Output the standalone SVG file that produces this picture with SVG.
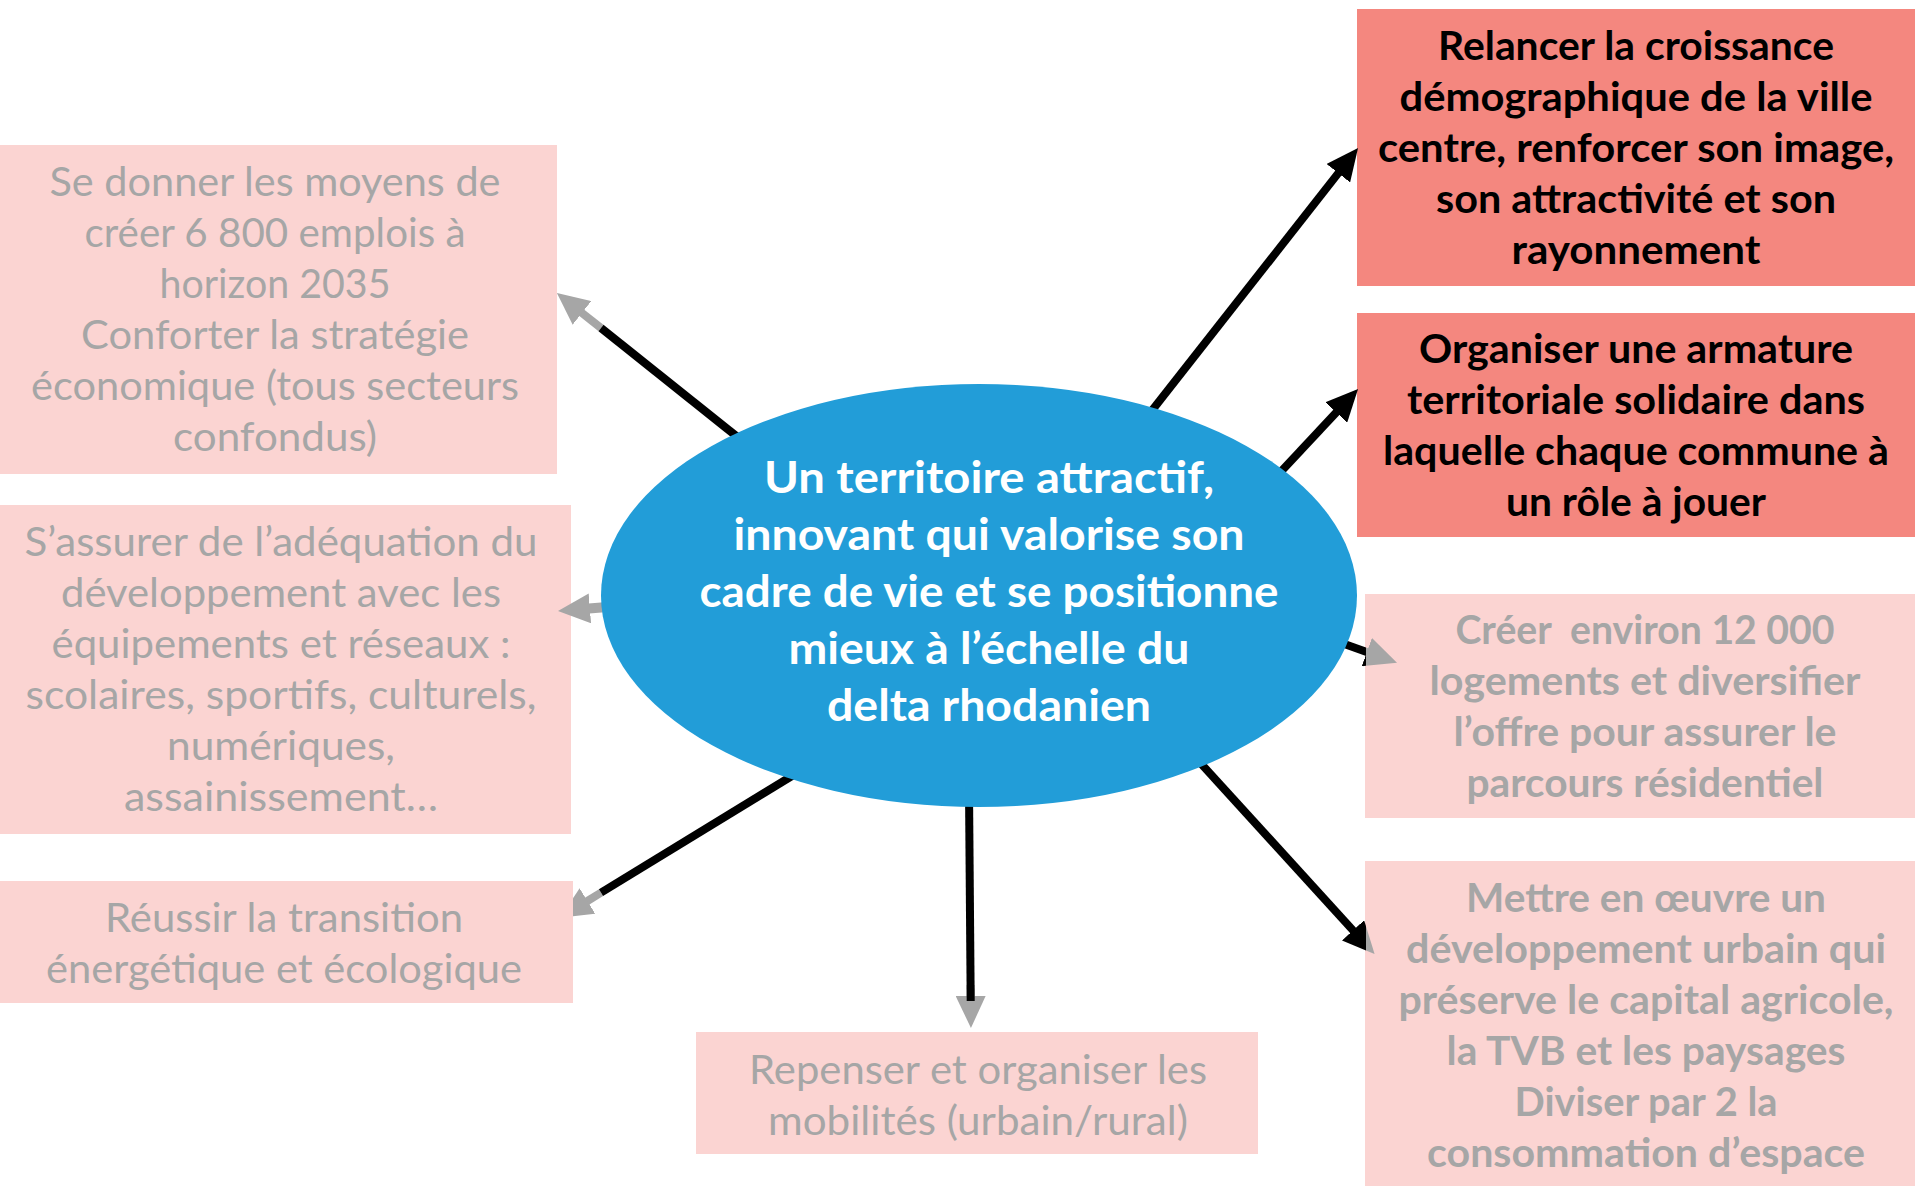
<svg xmlns="http://www.w3.org/2000/svg" width="1915" height="1186" viewBox="0 0 1915 1186">
<style>
.pk{fill:#FBD4D2}
.rd{fill:#F4877F}
.t{font-family:Lato,"Liberation Sans",sans-serif;font-size:40px;text-anchor:middle}
.g{fill:#A6A6A6}
.b{font-weight:bold}
.k{fill:#000000}
.e{font-family:Lato,"Liberation Sans",sans-serif;fill:#FFFFFF;font-weight:bold;font-size:44px;text-anchor:middle}
.lk{stroke:#000000;stroke-width:8;fill:none}
.lg{stroke:#A6A6A6;stroke-width:8;fill:none}
</style>
<defs>
<marker id="ag" viewBox="0 0 32 30" refX="1" refY="15" markerWidth="32" markerHeight="30" markerUnits="userSpaceOnUse" orient="auto"><path d="M0,0 L32,15 L0,30 Z" fill="#A6A6A6"/></marker>
<marker id="ab" viewBox="0 0 32 30" refX="1" refY="15" markerWidth="32" markerHeight="30" markerUnits="userSpaceOnUse" orient="auto"><path d="M0,0 L32,15 L0,30 Z" fill="#000000"/></marker>
<clipPath id="clipL"><rect x="573" y="0" width="1342" height="1186"/></clipPath>
<clipPath id="clipIn"><rect x="0" y="0" width="1366" height="1186"/></clipPath>
<clipPath id="clipOut"><rect x="1366" y="0" width="549" height="1186"/></clipPath>
</defs>
<rect width="1915" height="1186" fill="#FFFFFF"/>

<g id="n-emplois">
<rect class="pk" x="0" y="145" width="557" height="329"/>
<text class="t g" x="275" y="196" textLength="451" lengthAdjust="spacingAndGlyphs">Se donner les moyens de</text>
<text class="t g" x="275" y="247" textLength="381" lengthAdjust="spacingAndGlyphs">créer 6 800 emplois à</text>
<text class="t g" x="275" y="298" textLength="231" lengthAdjust="spacingAndGlyphs">horizon 2035</text>
<text class="t g" x="275" y="349" textLength="388" lengthAdjust="spacingAndGlyphs">Conforter la stratégie</text>
<text class="t g" x="275" y="400" textLength="488" lengthAdjust="spacingAndGlyphs">économique (tous secteurs</text>
<text class="t g" x="275" y="451" textLength="204" lengthAdjust="spacingAndGlyphs">confondus)</text>
</g>

<g id="n-equipements">
<rect class="pk" x="0" y="505" width="571" height="329"/>
<text class="t g" x="281" y="556" textLength="513" lengthAdjust="spacingAndGlyphs">S’assurer de l’adéquation du</text>
<text class="t g" x="281" y="607" textLength="440" lengthAdjust="spacingAndGlyphs">développement avec les</text>
<text class="t g" x="281" y="658" textLength="459" lengthAdjust="spacingAndGlyphs">équipements et réseaux :</text>
<text class="t g" x="281" y="709" textLength="511" lengthAdjust="spacingAndGlyphs">scolaires, sportifs, culturels,</text>
<text class="t g" x="281" y="760" textLength="228" lengthAdjust="spacingAndGlyphs">numériques,</text>
<text class="t g" x="281" y="811" textLength="314" lengthAdjust="spacingAndGlyphs">assainissement…</text>
</g>

<g id="n-transition">
<rect class="pk" x="0" y="881" width="573" height="122"/>
<text class="t g" x="284" y="932" textLength="358" lengthAdjust="spacingAndGlyphs">Réussir la transition</text>
<text class="t g" x="284" y="983" textLength="476" lengthAdjust="spacingAndGlyphs">énergétique et écologique</text>
</g>

<g id="n-mobilites">
<rect class="pk" x="696" y="1032" width="562" height="122"/>
<text class="t g" x="978" y="1084" textLength="458" lengthAdjust="spacingAndGlyphs">Repenser et organiser les</text>
<text class="t g" x="978" y="1135" textLength="420" lengthAdjust="spacingAndGlyphs">mobilités (urbain/rural)</text>
</g>

<g id="n-croissance">
<rect class="rd" x="1357" y="9" width="558" height="277"/>
<text class="t b k" x="1636" y="60" textLength="396" lengthAdjust="spacingAndGlyphs">Relancer la croissance</text>
<text class="t b k" x="1636" y="111" textLength="473" lengthAdjust="spacingAndGlyphs">démographique de la ville</text>
<text class="t b k" x="1636" y="162" textLength="516" lengthAdjust="spacingAndGlyphs">centre, renforcer son image,</text>
<text class="t b k" x="1636" y="213" textLength="400" lengthAdjust="spacingAndGlyphs">son attractivité et son</text>
<text class="t b k" x="1636" y="264" textLength="249" lengthAdjust="spacingAndGlyphs">rayonnement</text>
</g>

<g id="n-armature">
<rect class="rd" x="1357" y="313" width="558" height="224"/>
<text class="t b k" x="1636" y="363" textLength="434" lengthAdjust="spacingAndGlyphs">Organiser une armature</text>
<text class="t b k" x="1636" y="414" textLength="458" lengthAdjust="spacingAndGlyphs">territoriale solidaire dans</text>
<text class="t b k" x="1636" y="465" textLength="506" lengthAdjust="spacingAndGlyphs">laquelle chaque commune à</text>
<text class="t b k" x="1636" y="516" textLength="260" lengthAdjust="spacingAndGlyphs">un rôle à jouer</text>
</g>

<g id="n-logements">
<rect class="pk" x="1365" y="594" width="550" height="224"/>
<text class="t b g" x="1645" y="644" textLength="379" lengthAdjust="spacingAndGlyphs" xml:space="preserve">Créer  environ 12 000</text>
<text class="t b g" x="1645" y="695" textLength="431" lengthAdjust="spacingAndGlyphs">logements et diversifier</text>
<text class="t b g" x="1645" y="746" textLength="383" lengthAdjust="spacingAndGlyphs">l’offre pour assurer le</text>
<text class="t b g" x="1645" y="797" textLength="357" lengthAdjust="spacingAndGlyphs">parcours résidentiel</text>
</g>

<g id="n-urbain">
<rect class="pk" x="1365" y="861" width="550" height="325"/>
<text class="t b g" x="1646" y="912" textLength="360" lengthAdjust="spacingAndGlyphs">Mettre en œuvre un</text>
<text class="t b g" x="1646" y="963" textLength="480" lengthAdjust="spacingAndGlyphs">développement urbain qui</text>
<text class="t b g" x="1646" y="1014" textLength="495" lengthAdjust="spacingAndGlyphs">préserve le capital agricole,</text>
<text class="t b g" x="1646" y="1065" textLength="399" lengthAdjust="spacingAndGlyphs">la TVB et les paysages</text>
<text class="t b g" x="1646" y="1116" textLength="263" lengthAdjust="spacingAndGlyphs">Diviser par 2 la</text>
<text class="t b g" x="1646" y="1167" textLength="438" lengthAdjust="spacingAndGlyphs">consommation d’espace</text>
</g>

<g id="connectors">
<line class="lg" x1="601" y1="328" x2="581.2" y2="312.3" marker-end="url(#ag)"/>
<line class="lk" x1="745" y1="443" x2="601" y2="328"/>
<line class="lg" style="stroke-width:10" x1="620" y1="606" x2="588.9" y2="608.5" marker-end="url(#ag)"/>
<g clip-path="url(#clipL)"><line class="lg" x1="601" y1="892.7" x2="586.6" y2="901.5" marker-end="url(#ag)"/></g>
<line class="lk" x1="805" y1="768" x2="601" y2="892.7"/>
<line class="lg" x1="970.6" y1="985" x2="970.7" y2="997" marker-end="url(#ag)"/>
<line class="lk" x1="969" y1="790" x2="970.7" y2="1001"/>
<line class="lk" x1="1150" y1="413" x2="1338.9" y2="172.4" marker-end="url(#ab)"/>
<line class="lk" x1="1275" y1="478" x2="1336.9" y2="411.7" marker-end="url(#ab)"/>
<g clip-path="url(#clipIn)"><line class="lk" x1="1330.4" y1="638.9" x2="1367.8" y2="652.4" marker-end="url(#ab)"/></g>
<g clip-path="url(#clipOut)"><line class="lg" x1="1358" y1="648.9" x2="1367.8" y2="652.4" marker-end="url(#ag)"/></g>
<g clip-path="url(#clipIn)"><line class="lk" x1="1192" y1="753.7" x2="1353.7" y2="931.1" marker-end="url(#ab)"/></g>
<g clip-path="url(#clipOut)"><line class="lg" x1="1340.2" y1="916.3" x2="1353.7" y2="931.1" marker-end="url(#ag)"/></g>
</g>

<g id="n-centre">
<ellipse cx="979" cy="595.5" rx="378" ry="211.5" fill="#229DD8"/>
<text class="e" x="989" y="493" textLength="450" lengthAdjust="spacingAndGlyphs">Un territoire attractif,</text>
<text class="e" x="989" y="550" textLength="511" lengthAdjust="spacingAndGlyphs">innovant qui valorise son</text>
<text class="e" x="989" y="607" textLength="579" lengthAdjust="spacingAndGlyphs">cadre de vie et se positionne</text>
<text class="e" x="989" y="664" textLength="401" lengthAdjust="spacingAndGlyphs">mieux à l’échelle du</text>
<text class="e" x="989" y="721" textLength="324" lengthAdjust="spacingAndGlyphs">delta rhodanien</text>
</g>
</svg>
